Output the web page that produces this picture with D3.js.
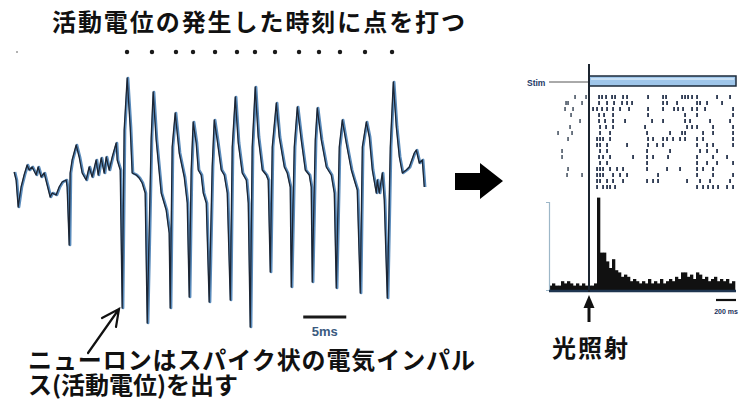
<!DOCTYPE html>
<html>
<head>
<meta charset="utf-8">
<script src="https://cdn.jsdelivr.net/npm/d3@7"></script>
<style>
  body { margin: 0; background: #fff; }
  svg { display: block; }
  .jp { font-family: "Noto Sans CJK JP", "Noto Sans CJK SC", sans-serif; font-weight: bold; fill: #111; }
</style>
</head>
<body>
<svg id="fig" width="748" height="416"></svg>
<script>
// VOLTAGE TRACE: [time ms, voltage units]
const tracePoints = [
  [0, 3], [0.23, -5], [0.47, -32], [0.81, -12], [1.16, 0], [1.51, 10], [1.74, 5], [2.09, 8],
  [2.56, 0], [2.79, 8], [3.14, -2], [3.49, 2], [3.84, -10], [4.19, -22], [4.42, -18], [4.88, -20],
  [5.23, -12], [5.58, -7], [6.05, -5], [6.16, -12], [6.40, -70], [6.51, 2], [6.74, 15], [7.21, 30],
  [7.56, 18], [7.91, 2], [8.37, -5], [8.72, 8], [9.07, -2], [9.53, 15], [9.77, 0], [10.12, 17],
  [10.47, 2], [10.70, 18], [11.05, 5], [11.40, 18], [11.86, 32], [11.98, 15], [12.33, 5],
  [12.56, -133], [12.79, 45], [13.14, 97], [13.49, 48], [13.72, 2], [14.19, 0], [14.53, -3],
  [14.88, -8], [15.23, -18], [15.47, -148], [15.93, 37], [16.16, 83], [16.51, 35], [17.09, -18],
  [17.67, -35], [18.02, -58], [18.14, -133], [18.37, 28], [18.72, 62], [19.19, 22], [19.77, -2],
  [20.12, -28], [20.35, -122], [20.58, 5], [20.81, 53], [21.16, 32], [21.40, 5], [21.74, 0],
  [21.98, -18], [22.33, -28], [22.67, -127], [23.02, 8], [23.26, 55], [23.60, 35], [24.07, 5],
  [24.42, 0], [24.77, -18], [25.12, -125], [25.35, 28], [25.70, 78], [26.05, 32], [26.51, 2],
  [26.98, -5], [27.21, -28], [27.44, -152], [27.67, 28], [28.02, 88], [28.37, 38], [28.84, 5],
  [29.30, 0], [29.53, -5], [29.77, -97], [30.00, 28], [30.47, 72], [30.81, 38], [31.40, 8],
  [31.74, 2], [32.09, -12], [32.21, -112], [32.56, 28], [32.91, 68], [33.37, 35], [33.84, 5],
  [34.30, 0], [34.53, -12], [34.65, -107], [35.00, 35], [35.23, 67], [35.70, 35], [36.28, 8],
  [36.86, 0], [37.21, -18], [37.44, -113], [37.79, 28], [38.14, 55], [38.60, 32], [39.19, 5],
  [39.53, -5], [39.88, -15], [40.23, -118], [40.47, 28], [40.93, 53], [41.28, 38], [41.63, 5],
  [42.09, -18], [42.21, -5], [42.44, -18], [42.79, 2], [43.02, -25], [43.37, -123], [43.72, 28],
  [44.07, 93], [44.42, 48], [44.77, 18], [45.12, 2], [45.58, 5], [45.93, 8], [46.51, 22],
  [46.74, 25], [47.09, 12], [47.44, 15], [47.67, -12]
];
// SPIKE MARKER TIMES (ms)
const spikeDots = [13.02, 15.92, 18.71, 20.69, 23.25, 25.80, 27.89, 30.22, 33.01, 35.33, 37.77, 40.68, 43.82];
const traceScaleBar = { start: 33.5, length: 5, level: -142, label: '5ms' };

// RASTER: spike times (ms from light onset) per trial
const rasterTrials = [
  [-140, -30, 100, 130, 170, 230, 260, 340, 380, 590, 740, 770, 930, 960, 990, 1030, 1080, 1280, 1410],
  [-230, -210, -70, 100, 180, 250, 330, 380, 430, 740, 780, 880, 1080, 1110, 1180, 1330],
  [-240, -160, 40, 80, 130, 180, 240, 310, 400, 590, 740, 850, 890, 940, 1030, 1080, 1160, 1440],
  [-180, 100, 150, 240, 590, 960, 1080, 1440],
  [-90, 100, 160, 240, 360, 630, 740, 960, 1010, 1210, 1410],
  [-190, 110, 170, 240, 560, 980, 1030, 1080, 1240, 1440],
  [-310, -170, 110, 210, 580, 810, 930, 960, 1140, 1240, 1440],
  [-210, 80, 110, 140, 210, 590, 640, 740, 780, 840, 910, 960, 1080, 1140, 1440],
  [80, 110, 180, 380, 590, 680, 740, 1080, 1180, 1240, 1440],
  [-270, 110, 180, 580, 810, 1110, 1180, 1280],
  [-270, 100, 140, 210, 440, 580, 640, 790, 1080, 1240, 1380],
  [110, 180, 580, 1080, 1180, 1280, 1440],
  [-210, 80, 110, 140, 210, 280, 340, 580, 780, 910, 1080, 1140, 1240],
  [-220, -70, 80, 110, 140, 240, 310, 380, 690, 1080, 1240, 1440],
  [80, 110, 180, 240, 340, 580, 640, 690, 980, 1110, 1210, 1410],
  [80, 140, 180, 210, 260, 1080, 1140, 1190, 1240, 1290, 1380, 1440]
];
// PSTH: 30 ms bins starting at -400 ms
const histStart = -400;
const histBinMs = 30;
const histCounts = [
  2, 3, 2, 2, 4, 3, 4, 3, 2, 3, 2, 3, 2, 2, 2, 3,
  42, 17, 17, 13, 10, 14, 9, 8, 6, 7, 6, 4, 5, 4, 3, 4,
  3, 5, 3, 4, 3, 5, 3, 4, 5, 4, 6, 5, 8, 8, 6, 7,
  5, 8, 7, 5, 6, 4, 5, 6, 4, 5, 4, 5, 3, 4
];
const stimSpan = [0, 1470];
const histScaleBar = { start: 1270, length: 200, label: '200 ms' };

// TEXT
const titleText = '活動電位の発生した時刻に点を打つ';
const captionLines = ['ニューロンはスパイク状の電気インパル', 'ス(活動電位)を出す'];
const lightText = '光照射';

const svg = d3.select('#fig');

// LEFT: TRACE
const traceX = d3.scaleLinear().domain([0, 48]).range([15, 428]);
const traceY = d3.scaleLinear().domain([-150, 100]).range([325, 75]);
const traceLine = d3.line().x(d => traceX(d[0])).y(d => traceY(d[1]));

svg.append('text').attr('class', 'jp')
  .attr('x', 52).attr('y', 31)
  .attr('font-size', 24)
  .attr('textLength', 413).attr('lengthAdjust', 'spacing')
  .text(titleText);

svg.append('circle').attr('cx', 17).attr('cy', 52).attr('r', 1).attr('fill', '#999');
svg.selectAll('circle.dot').data(spikeDots).enter().append('circle')
  .attr('class', 'dot')
  .attr('cx', d => traceX(d)).attr('cy', 52).attr('r', 2.2)
  .attr('fill', '#1a1a1a');

svg.append('path').attr('d', traceLine(tracePoints))
  .attr('fill', 'none').attr('stroke', '#5a8bbb').attr('stroke-width', 2.6)
  .attr('stroke-linejoin', 'round');
svg.append('path').attr('d', traceLine(tracePoints))
  .attr('transform', 'translate(-0.9,0)')
  .attr('fill', 'none').attr('stroke', '#1c2533').attr('stroke-width', 1.3)
  .attr('stroke-linejoin', 'round');

// scale bar 5ms
svg.append('line')
  .attr('x1', traceX(traceScaleBar.start)).attr('x2', traceX(traceScaleBar.start + traceScaleBar.length))
  .attr('y1', traceY(traceScaleBar.level)).attr('y2', traceY(traceScaleBar.level))
  .attr('stroke', '#1a1a1a').attr('stroke-width', 3);
svg.append('text')
  .attr('x', traceX(traceScaleBar.start + traceScaleBar.length / 2)).attr('y', 336)
  .attr('text-anchor', 'middle')
  .attr('font-family', 'Liberation Sans, Arial, sans-serif').attr('font-weight', 'bold')
  .attr('font-size', 13).attr('fill', '#3a5a80')
  .text(traceScaleBar.label);

// pointer arrow
svg.append('path')
  .attr('d', 'M88,353 L119,309 M102,318 L119,309 L116,327')
  .attr('fill', 'none').attr('stroke', '#111').attr('stroke-width', 2.2)
  .attr('stroke-linecap', 'round');

// caption (one text block, two lines)
const caption = svg.append('text').attr('class', 'jp').attr('font-size', 24);
captionLines.forEach((line, i) => {
  caption.append('tspan')
    .attr('x', 28).attr('y', 369 + i * 25)
    .attr('textLength', i === 0 ? 447 : 210).attr('lengthAdjust', 'spacing')
    .text(line);
});

// big arrow
svg.append('path')
  .attr('d', 'M455,173 L480,173 L480,163 L503,181 L480,199 L480,190 L455,190 Z')
  .attr('fill', '#000');

// RIGHT: RASTER + PSTH
const rasterX = d3.scaleLinear().domain([-400, 1470]).range([549, 736]);
const rowY = d3.scaleLinear().domain([0, rasterTrials.length - 1]).range([97, 187]);
const histY = d3.scaleLinear().domain([0, 40]).range([290, 202]);

// stim row
svg.append('text')
  .attr('x', 527).attr('y', 86)
  .attr('font-family', 'Liberation Sans, Arial, sans-serif').attr('font-weight', 'bold')
  .attr('font-size', 8.5).attr('fill', '#1e3a66')
  .text('Stim');
svg.append('line')
  .attr('x1', 549).attr('x2', rasterX(stimSpan[0]))
  .attr('y1', 82).attr('y2', 82)
  .attr('stroke', '#555').attr('stroke-width', 1);
svg.append('rect')
  .attr('x', rasterX(stimSpan[0])).attr('y', 76)
  .attr('width', rasterX(stimSpan[1]) - rasterX(stimSpan[0])).attr('height', 10)
  .attr('fill', '#9fc6ea').attr('stroke', '#1c2a3a').attr('stroke-width', 1.5);
svg.append('line')
  .attr('x1', rasterX(stimSpan[0]) + 2).attr('x2', rasterX(stimSpan[1]) - 2)
  .attr('y1', 79).attr('y2', 79)
  .attr('stroke', '#d6e9f8').attr('stroke-width', 1.5);

// raster ticks
rasterTrials.forEach((trial, r) => {
  svg.selectAll(`rect.tick${r}`).data(trial).enter().append('rect')
    .attr('class', `tick${r}`)
    .attr('x', d => rasterX(d) - 0.8).attr('y', rowY(r) - 2)
    .attr('width', 1.7).attr('height', 4)
    .attr('fill', d => d < 0 ? '#55606e' : '#1c2a44');
});

// psth bars
const binW = rasterX(histBinMs) - rasterX(0);
svg.selectAll('rect.bin').data(histCounts).enter().append('rect')
  .attr('class', 'bin')
  .attr('x', (d, i) => rasterX(histStart + i * histBinMs))
  .attr('y', d => histY(d))
  .attr('width', binW + 0.3)
  .attr('height', d => histY(0) - histY(d))
  .attr('fill', '#111');

svg.append('g').attr('transform', 'translate(549,0)')
  .call(d3.axisLeft(histY).tickValues([]).tickSizeOuter(3))
  .call(g => g.select('.domain').attr('stroke', '#9db7c8').attr('stroke-width', 1.2));
svg.append('line')
  .attr('x1', 549).attr('x2', 736).attr('y1', 291).attr('y2', 291)
  .attr('stroke', '#1f3550').attr('stroke-width', 2.5);

// stim onset line
svg.append('line')
  .attr('x1', rasterX(0)).attr('x2', rasterX(0)).attr('y1', 64).attr('y2', 292)
  .attr('stroke', '#1c2530').attr('stroke-width', 2);

// psth scale bar
svg.append('line')
  .attr('x1', rasterX(histScaleBar.start)).attr('x2', rasterX(histScaleBar.start + histScaleBar.length))
  .attr('y1', 300).attr('y2', 300)
  .attr('stroke', '#111').attr('stroke-width', 2.2);
svg.append('text')
  .attr('x', rasterX(histScaleBar.start + histScaleBar.length / 2)).attr('y', 314)
  .attr('text-anchor', 'middle')
  .attr('font-family', 'Liberation Sans, Arial, sans-serif').attr('font-weight', 'bold')
  .attr('font-size', 7).attr('fill', '#1b2f5a')
  .text(histScaleBar.label);

// light arrow
const ax = rasterX(0);
svg.append('line')
  .attr('x1', ax).attr('x2', ax).attr('y1', 322).attr('y2', 304)
  .attr('stroke', '#111').attr('stroke-width', 3);
svg.append('path')
  .attr('d', `M${ax},295 L${ax + 5.5},308 L${ax - 5.5},308 Z`)
  .attr('fill', '#111');

svg.append('text').attr('class', 'jp')
  .attr('x', 552).attr('y', 357)
  .attr('font-size', 24)
  .attr('textLength', 76).attr('lengthAdjust', 'spacing')
  .text(lightText);
</script>
</body>
</html>
